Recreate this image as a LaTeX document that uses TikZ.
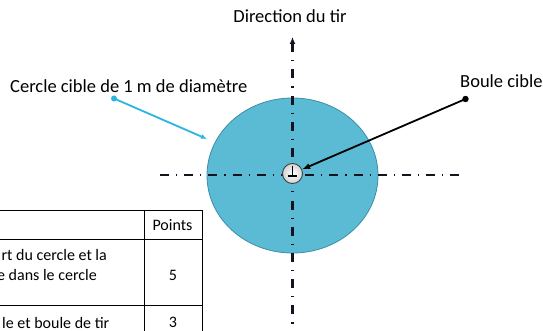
\documentclass[tikz,border=0pt]{standalone}
\usepackage{fontspec}
\setmainfont{Carlito}
\usetikzlibrary{arrows.meta,shapes.geometric}
\definecolor{targetfill}{HTML}{5BBBD5}
\definecolor{targetedge}{HTML}{3C8EA6}
\definecolor{cyanarrow}{HTML}{2BB5DF}
\definecolor{axis}{HTML}{141420}
\tikzset{
  lbl/.style={font=\fontsize{18.5}{20}\selectfont, inner sep=0pt},
  tbl/.style={font=\fontsize{16}{18}\selectfont, inner sep=0pt},
  axisv/.style={axis, line width=2.2pt, dash pattern=on 9pt off 8pt on 1.2pt off 8pt},
  axish/.style={axis, line width=2.2pt, dash pattern=on 9pt off 7pt on 1.2pt off 7pt},
  rule/.style={line width=0.9pt, black},
  pointer/.style={line width=1.8pt}
}
\begin{document}
\begin{tikzpicture}[x=1pt,y=-1pt]
\clip (0,0) rectangle (543,331);
\fill[white] (0,0) rectangle (543,331);
% target circle
\node[ellipse, draw=targetedge, fill=targetfill, line width=0.8pt,
      minimum width=171pt, minimum height=155pt, inner sep=0pt] (target) at (292.5,175.5) {};
% axes
\coordinate (vtop) at (292.5,37);
\coordinate (vbot) at (292.5,340);
\coordinate (hleft) at (160,175);
\coordinate (hright) at (461,175);
\draw[axisv, {Latex[length=7pt,width=6pt]}-] (vtop) -- (vbot);
\draw[axish] (hleft) -- (hright);
% ball
\node[circle, draw=black!75, line width=0.9pt, inner color=white, outer color=gray!35,
      minimum size=20pt, inner sep=0pt] (ball) at (292.5,173.5) {};
\draw[line width=1.3pt] (ball.center) ++(0,-7) -- ++(0,9.5) coordinate (bt) ;
\draw[line width=1.3pt] (bt) ++(-4.5,0) -- ++(9,0);
% labels
\node[lbl] (dir) at (290,16) {Direction du tir};
\node[lbl, anchor=west] (cercle) at (10,86) {Cercle cible de 1 m de diamètre};
\node[lbl, anchor=west] (boule) at (460,81) {Boule cible};
% pointers
\coordinate (cstart) at (114,98.5);
\coordinate (ctip) at (207,139);
\fill[cyanarrow] (cstart) circle (3pt);
\draw[pointer, cyanarrow, -{Latex[length=6pt,width=5pt]}] (cstart) -- (ctip);
\coordinate (bstart) at (465.5,99);
\fill[black] (bstart) circle (3.2pt);
\draw[pointer, black, -{Latex[length=8pt,width=6pt]}] (bstart) -- (ball);
% table
\coordinate (t1) at (0,210);
\coordinate (t2) at (202,210);
\coordinate (t3) at (0,239);
\coordinate (t4) at (202,239);
\coordinate (t5) at (0,305);
\coordinate (t6) at (202,305);
\coordinate (c1) at (144,210);
\coordinate (c2) at (144,340);
\coordinate (r1) at (202,340);
\draw[rule] (t1) -- (t2);
\draw[rule] (t3) -- (t4);
\draw[rule] (t5) -- (t6);
\draw[rule] (c1) -- (c2);
\draw[rule] (t2) -- (r1);
\node[tbl] (pts) at (172.5,225) {Points};
\node[tbl, anchor=east] (l1) at (107,255) {rt du cercle et la};
\node[tbl, anchor=east] (l2) at (97,275) {e dans le cercle};
\node[tbl] (p5) at (173,275) {5};
\node[tbl, anchor=east] (l3) at (109.5,323) {le et boule de tir};
\node[tbl] (p3) at (173,322) {3};
\end{tikzpicture}
\end{document}
